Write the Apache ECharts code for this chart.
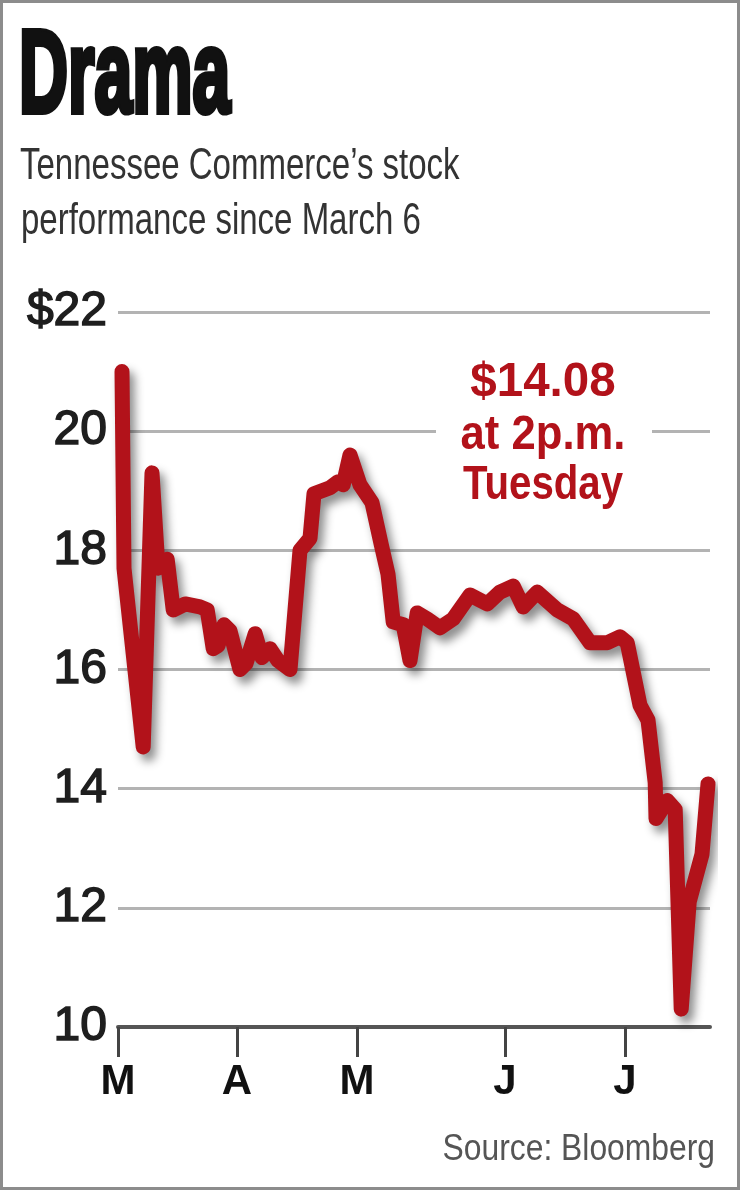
<!DOCTYPE html>
<html>
<head>
<meta charset="utf-8">
<title>Drama</title>
<script src="https://cdn.jsdelivr.net/npm/echarts@6/dist/echarts.min.js"></script>
<style>
  html, body { margin: 0; padding: 0; background: #fff; }
  #chart { width: 740px; height: 1190px; }
</style>
</head>
<body>
<div id="chart"></div>
<script>
// position along the x axis (0 = start of March, 148 = last session shown)
const days = [
  1.0, 1.5, 6.3, 8.5, 10, 12.3, 13.8, 16.8, 20.5, 22.3,
  23.8, 25, 26.5, 28, 30.5, 32, 34.3, 36, 38, 40,
  43, 45.5, 48, 49, 53, 55, 56.3, 58, 60.5, 63.5,
  65.8, 67.5, 68.8, 71.3, 73, 74.8, 77.3, 80.5, 83.8, 88,
  92.3, 95.5, 98.8, 101.3, 104.8, 109.8, 113.8, 118, 122.3, 125.5,
  127.3, 130.5, 132.5, 134.3, 134.5, 137.3, 139.3, 140.8, 142.8, 146,
  147.5
]
// share price, dollars
const prices = [
  21.0, 17.7, 14.7, 19.3, 17.7, 17.85, 17.0, 17.1, 17.05, 17.0,
  16.35, 16.4, 16.75, 16.65, 16.0, 16.1, 16.6, 16.2, 16.35, 16.15,
  16.0, 18.0, 18.2, 18.95, 19.05, 19.15, 19.1, 19.6, 19.1, 18.8,
  18.1, 17.6, 16.8, 16.75, 16.15, 16.95, 16.85, 16.7, 16.85, 17.25,
  17.1, 17.3, 17.4, 17.05, 17.3, 17.0, 16.85, 16.45, 16.45, 16.55,
  16.45, 15.4, 15.15, 14.1, 13.5, 13.8, 13.65, 10.3, 12.1, 12.9,
  14.08
]
const monthTicks = [0, 29.75, 59.75, 96.75, 126.75]
const monthLabels = ['M', 'A', 'M', 'J', 'J']
const priceLabels = ['10', '12', '14', '16', '18', '20', '$22']

const RED = '#b2121a'
const FONT = '"Liberation Sans", Arial, sans-serif'

const chart = echarts.init(document.getElementById('chart'))

chart.setOption({
  animation: false,
  backgroundColor: '#fff',
  grid: { left: 118, right: 30, top: 312, bottom: 163 },
  xAxis: {
    type: 'value',
    min: 0,
    max: 148,
    splitLine: { show: false },
    axisLine: { show: true, onZero: false, lineStyle: { color: '#555', width: 4 } },
    axisTick: {
      show: true,
      customValues: monthTicks,
      length: 30,
      lineStyle: { color: '#444', width: 3 }
    },
    axisLabel: {
      customValues: monthTicks,
      formatter: (v) => {
        let best = 0
        monthTicks.forEach((t, i) => { if (Math.abs(t - v) < Math.abs(monthTicks[best] - v)) best = i })
        return monthLabels[best]
      },
      margin: 34,
      fontSize: 42,
      fontWeight: 'bold',
      fontFamily: FONT,
      color: '#111'
    }
  },
  yAxis: {
    type: 'value',
    min: 10,
    max: 22,
    interval: 2,
    axisLine: { show: false },
    axisTick: { show: false },
    splitLine: { lineStyle: { color: '#b3b3b3', width: 3 } },
    axisLabel: {
      formatter: (v) => priceLabels[(v - 10) / 2],
      margin: 11,
      fontSize: 48,
      fontFamily: FONT,
      color: '#1e1e1e',
      textBorderColor: '#1e1e1e',
      textBorderWidth: 1.5
    }
  },
  series: [{
    type: 'line',
    data: days.map((d, i) => [d, prices[i]]),
    symbol: 'none',
    lineStyle: {
      color: RED,
      width: 15,
      join: 'round',
      cap: 'round',
      shadowColor: 'rgba(0, 0, 0, 0.45)',
      shadowBlur: 10,
      shadowOffsetX: 5,
      shadowOffsetY: 7
    },
    z: 5
  }],
  graphic: [
    // frame
    {
      type: 'rect',
      z: 20,
      shape: { x: 1.5, y: 1.5, width: 737, height: 1187 },
      style: { fill: 'none', stroke: '#8c8c8c', lineWidth: 3 }
    },
    // title
    {
      type: 'text',
      z: 20,
      x: 19,
      y: 80,
      scaleX: 0.58,
      style: {
        text: 'Drama',
        font: 'bold 117px ' + FONT,
        fill: '#111',
        stroke: '#111',
        lineWidth: 6,
        textAlign: 'left',
        textVerticalAlign: 'middle'
      }
    },
    {
      type: 'text',
      z: 20,
      x: 20,
      y: 167,
      scaleX: 0.75,
      style: {
        text: 'Tennessee Commerce\u2019s stock',
        font: '44px ' + FONT,
        fill: '#333',
        textAlign: 'left',
        textVerticalAlign: 'middle'
      }
    },
    {
      type: 'text',
      z: 20,
      x: 21,
      y: 222,
      scaleX: 0.75,
      style: {
        text: 'performance since March 6',
        font: '44px ' + FONT,
        fill: '#333',
        textAlign: 'left',
        textVerticalAlign: 'middle'
      }
    },
    // annotation with a white patch behind it
    {
      type: 'rect',
      z: 10,
      shape: { x: 436, y: 355, width: 216, height: 155 },
      style: { fill: '#fff' }
    },
    {
      type: 'text',
      z: 20,
      x: 543,
      y: 382,
      scaleX: 0.97,
      style: {
        text: '$14.08',
        font: 'bold 49px ' + FONT,
        fill: RED,
        textAlign: 'center',
        textVerticalAlign: 'middle'
      }
    },
    {
      type: 'text',
      z: 20,
      x: 543,
      y: 435,
      scaleX: 0.89,
      style: {
        text: 'at 2p.m.',
        font: 'bold 49px ' + FONT,
        fill: RED,
        textAlign: 'center',
        textVerticalAlign: 'middle'
      }
    },
    {
      type: 'text',
      z: 20,
      x: 543,
      y: 485,
      scaleX: 0.82,
      style: {
        text: 'Tuesday',
        font: 'bold 49px ' + FONT,
        fill: RED,
        textAlign: 'center',
        textVerticalAlign: 'middle'
      }
    },
    // source
    {
      type: 'text',
      z: 20,
      x: 715,
      y: 1150,
      scaleX: 0.86,
      style: {
        text: 'Source: Bloomberg',
        font: '37px ' + FONT,
        fill: '#555',
        textAlign: 'right',
        textVerticalAlign: 'middle'
      }
    }
  ]
})
</script>
</body>
</html>
